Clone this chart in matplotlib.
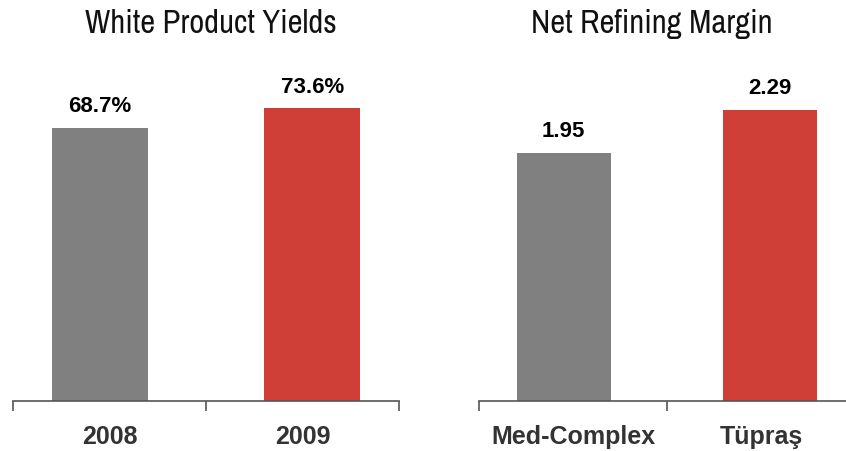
import matplotlib
matplotlib.use("Agg")
import matplotlib.pyplot as plt

yield_years = ["2008", "2009"]
yield_values = [68.7, 73.6]
yield_labels = ["68.7%", "73.6%"]

margin_names = ["Med-Complex", "Tüpraş"]
margin_values = [1.95, 2.29]
margin_labels = ["1.95", "2.29"]

bar_colors = ["#808080", "#CF3F38"]
offsets = [-0.05, 0.05]

W, H = 846, 452
fig = plt.figure(figsize=(W / 100, H / 100), dpi=100)

base_y = 402
top_y = 60
label_font = ["Liberation Sans", "DejaVu Sans"]
title_font = ["Archivo Narrow", "Liberation Sans", "DejaVu Sans"]


def make_axes(x0, x1):
    return fig.add_axes([x0 / W, (H - base_y) / H, (x1 - x0) / W, (base_y - top_y) / H])


def draw(ax, names, values, labels, ymax, pad):
    xs = [i + offsets[i] for i in range(len(values))]
    ax.bar(xs, values, width=0.5, color=bar_colors, zorder=2)
    for x, v, lab in zip(xs, values, labels):
        ax.text(x, v + pad, lab, ha="center", va="bottom", fontsize=16,
                fontweight="bold", color="black", family=label_font)
    ax.set_xlim(-0.5, len(values) - 0.5)
    ax.set_ylim(0, ymax)
    for s in ["top", "right", "left"]:
        ax.spines[s].set_visible(False)
    ax.spines["bottom"].set_color("#555555")
    ax.spines["bottom"].set_linewidth(1.2)
    ax.set_yticks([])
    ax.set_xticks([i - 0.5 for i in range(len(values) + 1)])
    ax.set_xticklabels([])
    ax.tick_params(axis="x", direction="out", length=7, width=1.2, color="#555555")
    for i, n in enumerate(names):
        ax.text(i, -0.102 * ymax, n, ha="center", va="center", fontsize=18,
                fontweight="bold", color="#333333", family=label_font)


ax1 = make_axes(13, 399)
draw(ax1, yield_years, yield_values, yield_labels, (base_y - top_y) / 3.975, 3.0)

ax2 = make_axes(479, 855)
draw(ax2, margin_names, margin_values, margin_labels, (base_y - top_y) / 127.2, 0.094)

fig.text(211 / W, (H - 33) / H, "White Product Yields", ha="center", va="baseline",
         fontsize=23.5, family=title_font, color="#111111")
fig.text(652 / W, (H - 33) / H, "Net Refining Margin", ha="center", va="baseline",
         fontsize=23.5, family=title_font, color="#111111")

fig.savefig("out.png", dpi=100)
